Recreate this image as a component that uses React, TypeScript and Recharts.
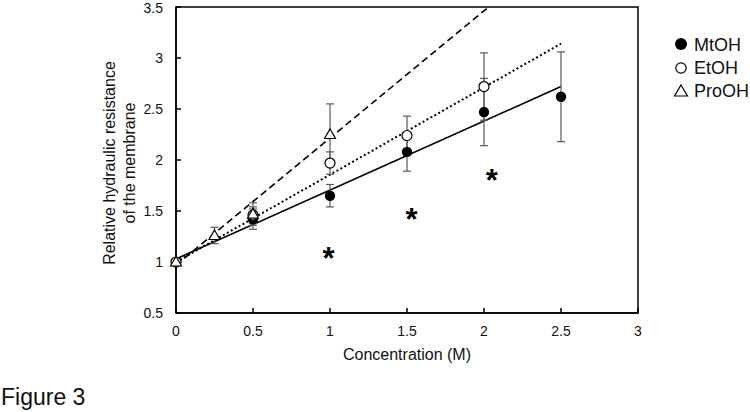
import { ComposedChart, Line, Scatter, XAxis, YAxis, ErrorBar, ReferenceArea } from 'recharts';

// concentration (M) / relative resistance / SD for each alcohol
const concMt = [0, 0.5, 1, 1.5, 2, 2.5];
const resMt = [1, 1.42, 1.65, 2.08, 2.47, 2.62];
const sdMt = [0, 0.1, 0.11, 0.19, 0.33, 0.44];

const concEt = [0, 0.5, 1, 1.5, 2];
const resEt = [1, 1.46, 1.97, 2.24, 2.72];
const sdEt = [0, 0.08, 0.11, 0.19, 0.33];

const concPro = [0, 0.25, 0.5, 1];
const resPro = [1, 1.26, 1.47, 2.25];
const sdPro = [0, 0.08, 0.11, 0.3];

// regression line end points
const fitMtX = [0, 2.5];
const fitMtY = [1.03, 2.72];
const fitEtX = [0, 2.5];
const fitEtY = [1.0, 3.14];
const fitProX = [0, 2.03];
const fitProY = [0.97, 3.5];

// significance markers
const starX = [0.99, 1.53, 2.05];
const starY = [1.1, 1.48, 1.86];

const xTicks = [0, 0.5, 1, 1.5, 2, 2.5, 3];
const yTicks = [0.5, 1, 1.5, 2, 2.5, 3, 3.5];

const FONT = '"Liberation Sans", Arial, sans-serif';
const INK = '#111';

const zip = (xs: number[], ys: number[], es?: number[]) =>
  xs.map((x, i) => ({ x, y: ys[i], e: es ? es[i] : 0 }));

const FilledDot = (p: any) => <circle cx={p.cx} cy={p.cy} r={5.2} fill="#000" />;
const OpenDot = (p: any) => (
  <circle cx={p.cx} cy={p.cy} r={5} fill="#fff" stroke="#000" strokeWidth={1.2} />
);
const Triangle = (p: any) => (
  <path
    d={`M${p.cx},${p.cy - 5.5} L${p.cx + 5.5},${p.cy + 4} L${p.cx - 5.5},${p.cy + 4} Z`}
    fill="#fff"
    stroke="#000"
    strokeWidth={1.2}
  />
);
const Star = (p: any) => (
  <text x={p.cx} y={p.cy + 17} textAnchor="middle" fontSize={31} fontWeight="bold" fontFamily={FONT} fill="#000">
    *
  </text>
);

const YTitle = (props: any) => {
  const { viewBox } = props;
  const cy = viewBox.y + viewBox.height / 2 + 3;
  const cx = 115;
  return (
    <text
      transform={`rotate(-90, ${cx}, ${cy})`}
      x={cx}
      y={cy}
      textAnchor="middle"
      fontSize={16}
      fontFamily={FONT}
      fill={INK}
    >
      <tspan x={cx} dy={0}>Relative hydraulic resistance</tspan>
      <tspan x={cx} dy={20}>of the membrane</tspan>
    </text>
  );
};

export default function App() {
  const tickStyle = { fontSize: 14, fontFamily: FONT, fill: INK };
  return (
    <div style={{ position: 'absolute', left: 0, top: 0, width: 750, height: 412, background: '#fff' }}>
      <ComposedChart width={750} height={412} margin={{ top: 7, right: 112, bottom: 49, left: 116 }}>
        <XAxis
          dataKey="x"
          type="number"
          domain={[0, 3]}
          ticks={xTicks}
          height={50}
          tickSize={-5}
          tickMargin={18}
          stroke="#000"
          strokeWidth={1.5}
          tick={tickStyle}
          label={{ value: 'Concentration (M)', position: 'insideBottom', offset: 3, fontSize: 16, fontFamily: FONT, fill: INK }}
        />
        <YAxis
          dataKey="y"
          type="number"
          domain={[0.5, 3.5]}
          ticks={yTicks}
          width={60}
          tickSize={-5}
          tickMargin={18}
          stroke="#000"
          strokeWidth={1.5}
          tick={tickStyle}
          label={<YTitle />}
        />
        <ReferenceArea x1={0} x2={3} y1={0.5} y2={3.5} fill="none" stroke="#000" strokeWidth={1.5} ifOverflow="visible" />

        <Line data={zip(fitMtX, fitMtY)} dataKey="y" stroke="#000" strokeWidth={1.6} dot={false} isAnimationActive={false} />
        <Line data={zip(fitEtX, fitEtY)} dataKey="y" stroke="#000" strokeWidth={2} strokeDasharray="2 2.5" dot={false} isAnimationActive={false} />
        <Line data={zip(fitProX, fitProY)} dataKey="y" stroke="#000" strokeWidth={1.6} strokeDasharray="7 4" dot={false} isAnimationActive={false} />

        <Scatter data={zip(concMt, resMt, sdMt)} dataKey="y" shape={FilledDot} isAnimationActive={false}>
          <ErrorBar dataKey="e" direction="y" width={4} stroke="#5a5a5a" strokeWidth={1.2} isAnimationActive={false} />
        </Scatter>
        <Scatter data={zip(concEt, resEt, sdEt)} dataKey="y" shape={OpenDot} isAnimationActive={false}>
          <ErrorBar dataKey="e" direction="y" width={4} stroke="#5a5a5a" strokeWidth={1.2} isAnimationActive={false} />
        </Scatter>
        <Scatter data={zip(concPro, resPro, sdPro)} dataKey="y" shape={Triangle} isAnimationActive={false}>
          <ErrorBar dataKey="e" direction="y" width={4} stroke="#5a5a5a" strokeWidth={1.2} isAnimationActive={false} />
        </Scatter>
        <Scatter data={zip(starX, starY)} dataKey="y" shape={Star} isAnimationActive={false} />
      </ComposedChart>

      <svg width={750} height={412} style={{ position: 'absolute', left: 0, top: 0, pointerEvents: 'none' }}>
        <g fontFamily={FONT} fontSize={18} fill={INK}>
          <circle cx={681} cy={44} r={6} fill="#000" />
          <text x={694} y={50.7}>MtOH</text>
          <circle cx={681} cy={68} r={5.2} fill="#fff" stroke="#000" strokeWidth={1.2} />
          <text x={694} y={74}>EtOH</text>
          <path d="M681,85 L687.5,96 L674.5,96 Z" fill="#fff" stroke="#000" strokeWidth={1.2} />
          <text x={694} y={96.7}>ProOH</text>
        </g>
        <text x={1} y={405} fontFamily={FONT} fontSize={23} fill={INK}>Figure 3</text>
      </svg>
    </div>
  );
}
